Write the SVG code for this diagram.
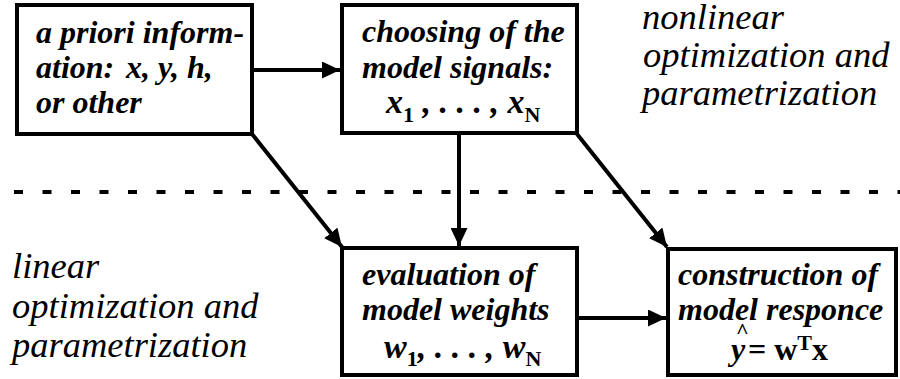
<svg xmlns="http://www.w3.org/2000/svg" width="900" height="379" viewBox="0 0 900 379">
<rect width="900" height="379" fill="#fff"/>
<text x="642" y="29" font-family="Liberation Serif" font-size="36.5" font-style="italic">nonlinear</text>
<text x="643" y="67" font-family="Liberation Serif" font-size="36.5" font-style="italic">optimization and</text>
<text x="642" y="105" font-family="Liberation Serif" font-size="36.5" font-style="italic">parametrization</text>
<text x="12" y="278" font-family="Liberation Serif" font-size="36.5" font-style="italic">linear</text>
<text x="12" y="318" font-family="Liberation Serif" font-size="36.5" font-style="italic">optimization and</text>
<text x="12" y="357" font-family="Liberation Serif" font-size="36.5" font-style="italic">parametrization</text>
<defs>
<marker id="ah" markerUnits="userSpaceOnUse" markerWidth="18" markerHeight="17" refX="18" refY="8.5" orient="auto">
<path d="M0,0 L18,8.5 L0,17 z" fill="#000"/>
</marker>
</defs>
<line x1="14" y1="192" x2="900" y2="192" stroke="#000" stroke-width="4" stroke-dasharray="9 19.5"/>
<g id="connectors" stroke="#000" stroke-width="4" fill="none">
<line x1="252" y1="70" x2="340" y2="70" marker-end="url(#ah)"/>
<line x1="252" y1="134" x2="342" y2="247" marker-end="url(#ah)"/>
<line x1="459" y1="133" x2="459" y2="246" marker-end="url(#ah)"/>
<line x1="577" y1="134" x2="667" y2="247" marker-end="url(#ah)"/>
<line x1="577" y1="318" x2="666" y2="318" marker-end="url(#ah)"/>
</g>
<g id="apriori">
<rect x="17" y="5" width="235" height="129" fill="#fff" stroke="#000" stroke-width="4"/>
<text x="36" y="43" font-family="Liberation Serif" font-size="32" font-style="italic" font-weight="bold">a priori inform-</text>
<text x="36" y="78" font-family="Liberation Serif" font-size="32" font-style="italic" font-weight="bold">ation:</text>
<text x="126" y="78" font-family="Liberation Serif" font-size="32" font-style="italic" font-weight="bold">x, y, h,</text>
<text x="36" y="113" font-family="Liberation Serif" font-size="32" font-style="italic" font-weight="bold">or other</text>
</g>
<g id="choosing">
<rect x="342" y="5" width="235" height="128" fill="#fff" stroke="#000" stroke-width="4"/>
<text x="362" y="42" font-family="Liberation Serif" font-size="32" font-style="italic" font-weight="bold">choosing of the</text>
<text x="362" y="78" font-family="Liberation Serif" font-size="32" font-style="italic" font-weight="bold">model signals:</text>
<text x="386" y="113" font-family="Liberation Serif" font-size="34" font-style="italic" font-weight="bold">x<tspan font-size="22" font-style="normal" dy="9">1</tspan><tspan dy="-9"> , . . . , x</tspan><tspan font-size="22" font-style="normal" dy="9">N</tspan></text>
</g>
<g id="evaluation">
<rect x="342" y="248" width="235" height="127" fill="#fff" stroke="#000" stroke-width="4"/>
<text x="362" y="285" font-family="Liberation Serif" font-size="32" font-style="italic" font-weight="bold">evaluation of</text>
<text x="362" y="320" font-family="Liberation Serif" font-size="32" font-style="italic" font-weight="bold">model weights</text>
<text x="384" y="358" font-family="Liberation Serif" font-size="34" font-style="italic" font-weight="bold">w<tspan font-size="22" font-style="normal" dy="8">1</tspan><tspan dy="-8">, . . . , w</tspan><tspan font-size="22" font-style="normal" dy="8">N</tspan></text>
</g>
<g id="construction">
<rect x="668" y="249" width="228" height="126" fill="#fff" stroke="#000" stroke-width="4"/>
<text x="678" y="285" font-family="Liberation Serif" font-size="32" font-style="italic" font-weight="bold">construction of</text>
<text x="678" y="320" font-family="Liberation Serif" font-size="32" font-style="italic" font-weight="bold">model responce</text>
<text x="731" y="360" font-family="Liberation Serif" font-size="32" font-style="italic" font-weight="bold">y</text>
<text x="736" y="338" font-family="Liberation Serif" font-size="22" font-weight="bold">^</text>
<text x="748" y="360" font-family="Liberation Serif" font-size="32" font-weight="bold">= w<tspan font-size="22" dy="-10">T</tspan><tspan dy="10">x</tspan></text>
</g>
</svg>
